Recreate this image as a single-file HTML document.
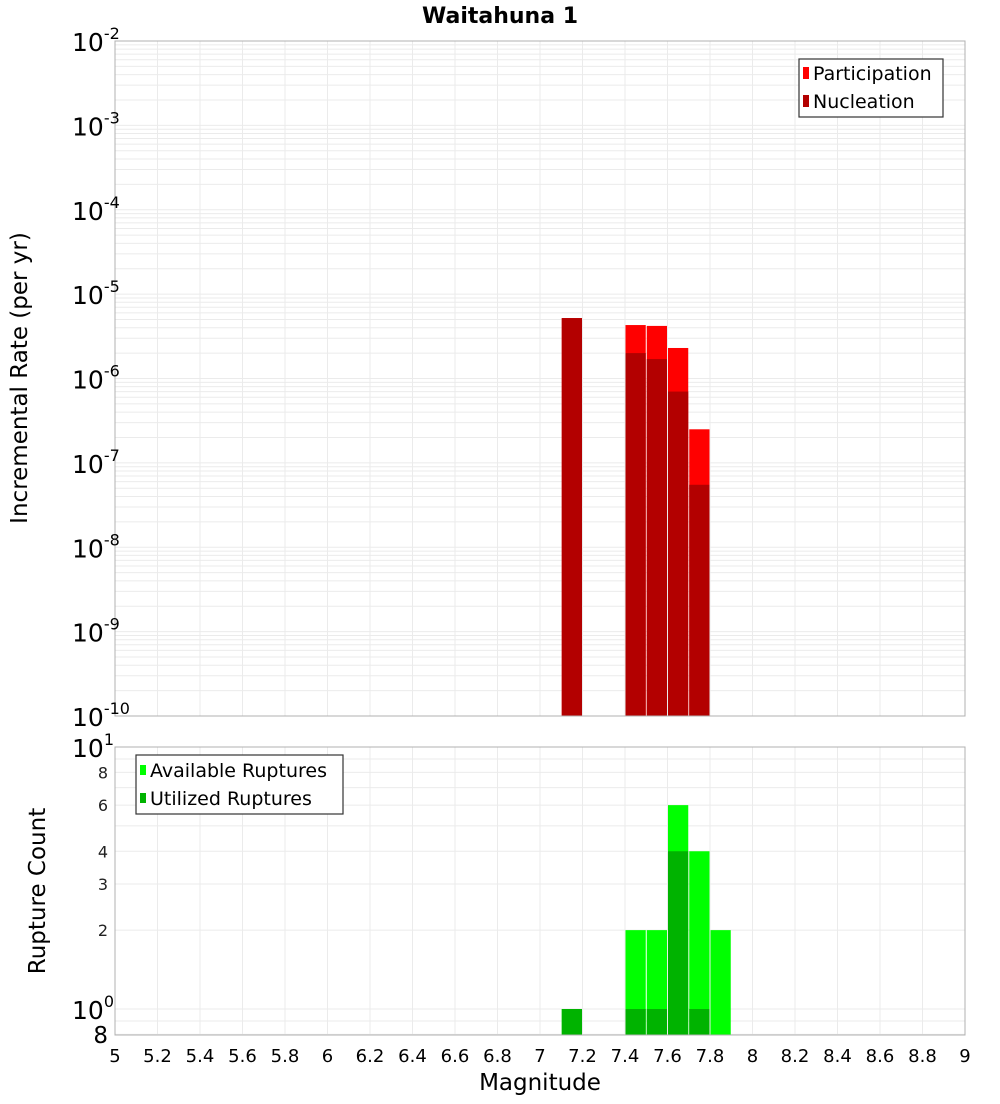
<!DOCTYPE html>
<html><head><meta charset="utf-8"><style>
body{margin:0;background:#fff;font-family:"DejaVu Sans","Liberation Sans",sans-serif;}
</style></head><body>
<svg id="c" width="1000" height="1100" xmlns="http://www.w3.org/2000/svg">
<text x="500" y="23" text-anchor="middle" font-size="22" font-weight="bold">Waitahuna 1</text>
<g id="topG"></g>
<g id="botG"></g>
<text transform="translate(27,378) rotate(-90)" text-anchor="middle" font-size="23">Incremental Rate (per yr)</text>
<text transform="translate(45,891) rotate(-90)" text-anchor="middle" font-size="23">Rupture Count</text>
<text x="540" y="1090" text-anchor="middle" font-size="23">Magnitude</text>
<g>
<rect x="799" y="59" width="144" height="58" fill="#fff" stroke="#333" stroke-width="1.2"/>
<rect x="803" y="67" width="6" height="12" fill="#ff0000"/>
<text x="813" y="80" font-size="19">Participation</text>
<rect x="803" y="95" width="6" height="12" fill="#b30000"/>
<text x="813" y="108" font-size="19">Nucleation</text>
</g>
<g>
<rect x="136" y="755" width="207" height="59" fill="#fff" stroke="#333" stroke-width="1.2"/>
<rect x="140" y="765" width="6" height="10" fill="#00ff00"/>
<text x="150" y="777" font-size="19">Available Ruptures</text>
<rect x="140" y="793" width="6" height="10" fill="#00b300"/>
<text x="150" y="805" font-size="19">Utilized Ruptures</text>
</g>
</svg>
<script>
const mags=[7.15,7.45,7.55,7.65,7.75,7.85];
const participation=[5.2e-6,4.3e-6,4.2e-6,2.3e-6,2.5e-7,0];
const nucleation=[5.2e-6,2.0e-6,1.7e-6,7.0e-7,5.5e-8,0];
const available=[1,2,2,6,4,2];
const utilized=[1,1,1,4,1,0];
const xTicks=["5","5.2","5.4","5.6","5.8","6","6.2","6.4","6.6","6.8","7","7.2","7.4","7.6","7.8","8","8.2","8.4","8.6","8.8","9"];
const countTicks=["2","3","4","6","8"];
const NS="http://www.w3.org/2000/svg";
const L=115,R=965;
const xs=m=>L+(m-5)*(R-L)/4;
const T1=41,B1=716,yTop=v=>T1+(-2-Math.log10(v))*(B1-T1)/8;
const T2=747,B2=1035,yBot=v=>1009-Math.log10(v)*262;
function mk(p,tag,a,txt){const e=document.createElementNS(NS,tag);for(const k in a)e.setAttribute(k,a[k]);if(txt!==undefined)e.textContent=txt;p.appendChild(e);return e;}
const topG=document.getElementById('topG'),botG=document.getElementById('botG');
for(let d=-10;d<-2;d++)for(let k=1;k<10;k++){const y=yTop(k*Math.pow(10,d));mk(topG,'line',{x1:L,x2:R,y1:y,y2:y,stroke:'#ebebeb','stroke-width':1});}
[0.8,0.9,1,2,3,4,5,6,7,8,9].forEach(v=>{const y=yBot(v);mk(botG,'line',{x1:L,x2:R,y1:y,y2:y,stroke:'#ebebeb','stroke-width':1});});
xTicks.forEach(t=>{const xx=xs(parseFloat(t));
 mk(topG,'line',{x1:xx,x2:xx,y1:T1,y2:B1,stroke:'#ebebeb'});
 mk(botG,'line',{x1:xx,x2:xx,y1:T2,y2:B2,stroke:'#ebebeb'});
 const lb=mk(botG,'text',{x:xx,y:1062,'text-anchor':'middle','font-size':18},t);
 
 
});
const bw=(R-L)/40;
mags.forEach((m,i)=>{
 const x0=xs(m)-bw/2;
 if(participation[i]>0){const r=mk(topG,'rect',{x:x0+0.5,y:yTop(participation[i]),width:bw-1,height:B1-yTop(participation[i]),fill:'#ff0000'});
  
  }
 if(nucleation[i]>0){const r=mk(topG,'rect',{x:x0+0.5,y:yTop(nucleation[i]),width:bw-1,height:B1-yTop(nucleation[i]),fill:'#b30000'});
  
  }
 if(available[i]>0){const r=mk(botG,'rect',{x:x0+0.5,y:yBot(available[i]),width:bw-1,height:B2-yBot(available[i]),fill:'#00ff00'});
  
  }
 if(utilized[i]>0){const r=mk(botG,'rect',{x:x0+0.5,y:yBot(utilized[i]),width:bw-1,height:B2-yBot(utilized[i]),fill:'#00b300'});
  
  }
});
mk(topG,'rect',{x:L,y:T1,width:R-L,height:B1-T1,fill:'none',stroke:'#b0b0b0'});
mk(botG,'rect',{x:L,y:T2,width:R-L,height:B2-T2,fill:'none',stroke:'#b0b0b0'});
for(let d=-10;d<=-2;d++){const y=yTop(Math.pow(10,d));
 const t=mk(topG,'text',{x:72,y:y+10,'font-size':25});
 
 
 mk(t,'tspan',{},'10');mk(t,'tspan',{dy:-12,'font-size':16},String(d));}
[[1,'0'],[10,'1']].forEach(([v,e])=>{const y=yBot(v);
 const t=mk(botG,'text',{x:72,y:y+10,'font-size':25});
 
 
 mk(t,'tspan',{},'10');mk(t,'tspan',{dy:-12,'font-size':16},e);});
countTicks.forEach(s=>{const y=yBot(parseFloat(s));
 const t=mk(botG,'text',{x:108,y:y+6,'text-anchor':'end','font-size':16,fill:'#222'},s);
 
 });
const e8=mk(botG,'text',{x:108,y:1043,'text-anchor':'end','font-size':23},'8');


</script>
</body></html>
